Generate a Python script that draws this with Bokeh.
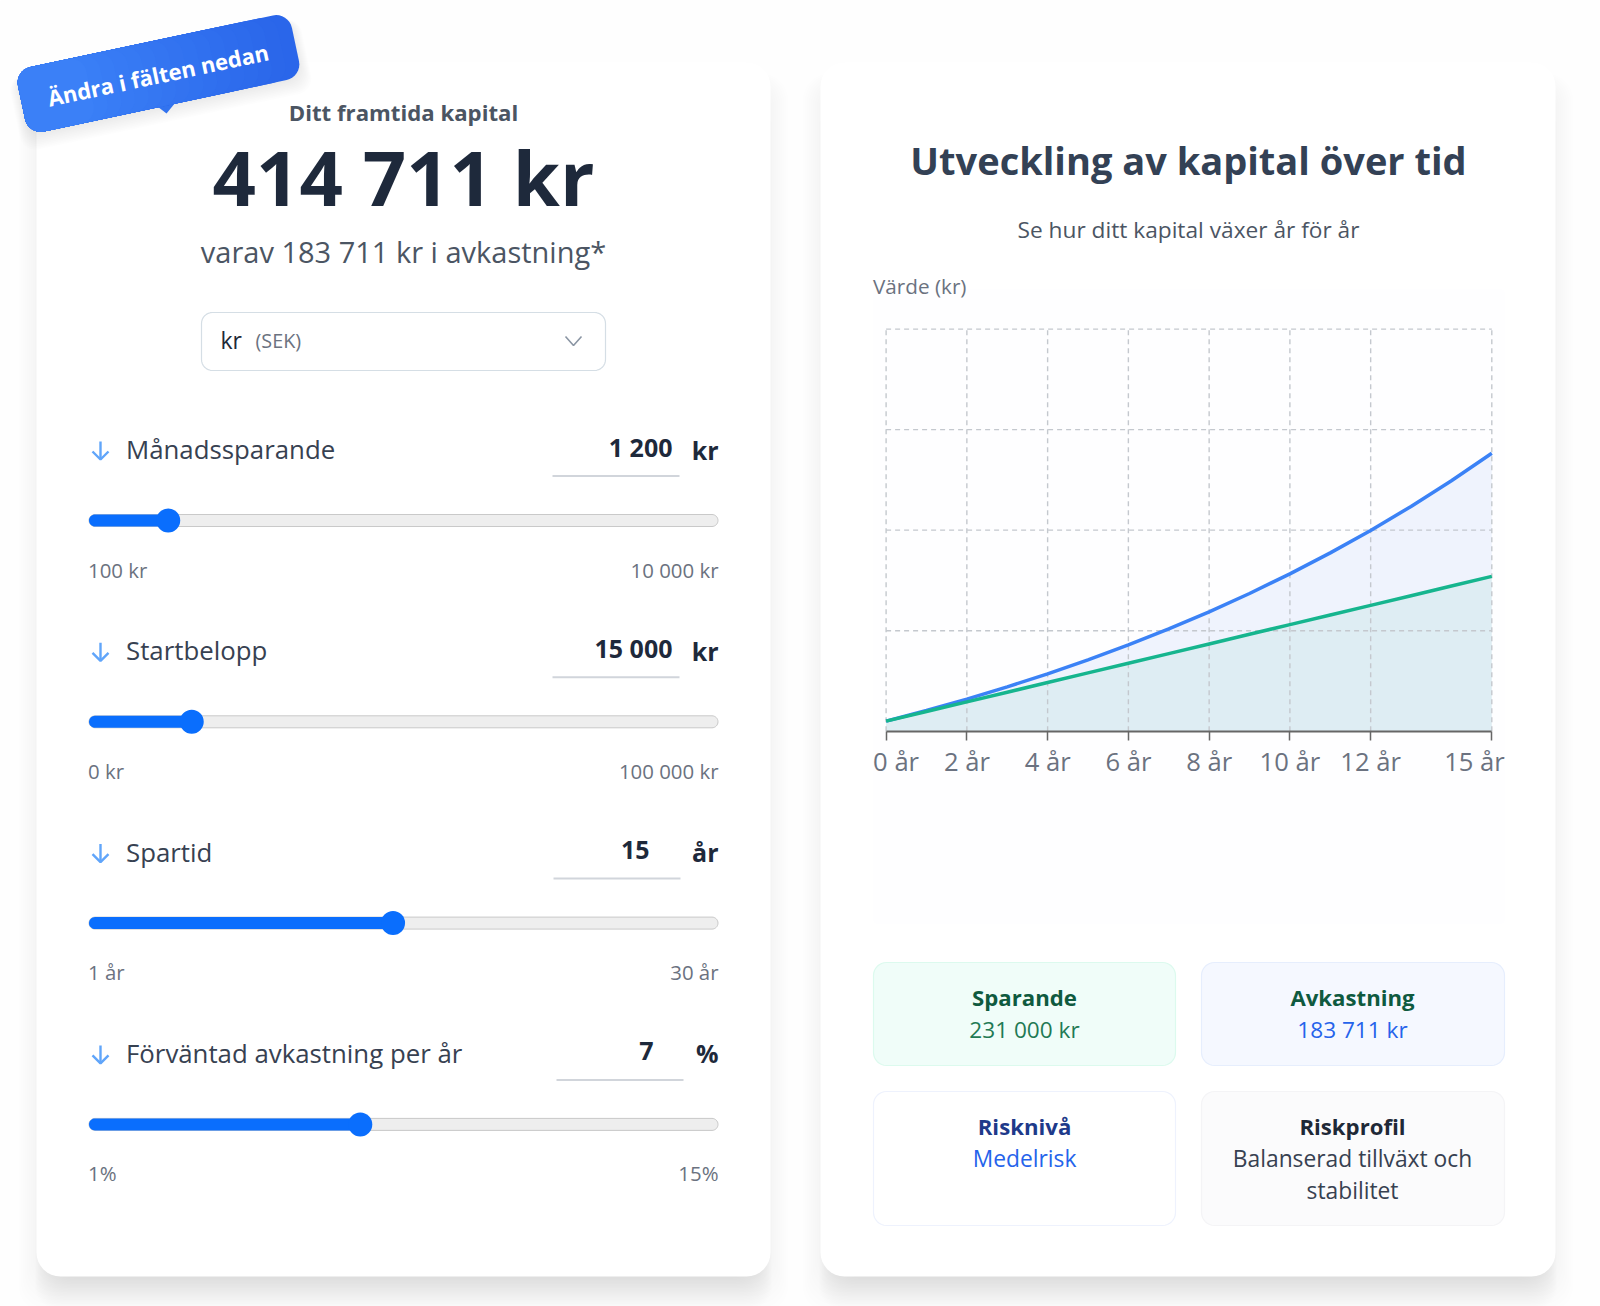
import numpy as np
from bokeh.core.properties import value
from bokeh.embed import file_html
from bokeh.models import FixedTicker, LinearAxis, Range1d
from bokeh.plotting import figure
from bokeh.resources import INLINE

# chart data
years = [0, 1, 2, 3, 4, 5, 6, 7, 8, 9, 10, 11, 12, 13, 14, 15]
saved = [15000, 29400, 43800, 58200, 72600, 87000, 101400, 115800, 130200, 144600, 159000, 173400, 187800, 202200, 216600, 231000]
capital = [15000, 30900, 47900, 66200, 85600, 106500, 128800, 152600, 178100, 205500, 234800, 266100, 299500, 335400, 373700, 414711]
tick_years = [0, 2, 4, 6, 8, 10, 12, 15]
tick_labels = ["0 år", "2 år", "4 år", "6 år", "8 år", "10 år", "12 år", "15 år"]
value_ticks = [150000, 300000, 450000, 600000]

# sliders
slider_names = ["Månadssparande", "Startbelopp", "Spartid", "Förväntad avkastning per år"]
slider_values = [1200, 15000, 15, 7]
slider_mins = [100, 0, 1, 1]
slider_maxs = [10000, 100000, 30, 15]
slider_shown = ["1 200", "15 000", "15", "7"]
slider_units = ["kr", "kr", "år", "%"]
min_labels = ["100 kr", "0 kr", "1 år", "1%"]
max_labels = ["10 000 kr", "100 000 kr", "30 år", "15%"]

W, H = 1600, 1306

p = figure(width=W, height=H, output_backend="svg", toolbar_location=None,
           x_range=Range1d(0, W), y_range=Range1d(H, 0),
           x_axis_location=None, y_axis_location=None, min_border=0,
           background_fill_color="#fefefe", border_fill_color="#fefefe", outline_line_color=None)
p.grid.visible = False


def rounded(x0, y0, x1, y1, r, angle=0.0, centre=None):
    """Outline of a rounded box in page pixels, optionally turned around a centre."""
    pts = []
    for cx, cy, start in [(x1 - r, y0 + r, -90), (x1 - r, y1 - r, 0), (x0 + r, y1 - r, 90), (x0 + r, y0 + r, 180)]:
        t = np.radians(np.linspace(start, start + 90, 9))
        pts += list(zip(cx + r * np.cos(t), cy + r * np.sin(t)))
    xs, ys = np.array(pts).T
    if angle:
        mx, my = centre or ((x0 + x1) / 2, (y0 + y1) / 2)
        a = np.radians(angle)
        xs, ys = mx + (xs - mx) * np.cos(a) - (ys - my) * np.sin(a), my + (xs - mx) * np.sin(a) + (ys - my) * np.cos(a)
    return xs, ys


def box(x0, y0, x1, y1, r, fill, line=None, alpha=1.0, angle=0.0, width=1.0, centre=None):
    xs, ys = rounded(x0, y0, x1, y1, r, angle, centre)
    p.patch(xs, ys, fill_color=fill, fill_alpha=alpha, line_color=line, line_width=width)


def label(x, y, s, size, color, bold=False, align="center", angle=0):
    p.text([x], [y], [s], text_font=value("Open Sans"), text_font_size=f"{size}px", text_color=color,
           text_font_style="bold" if bold else "normal", text_align=align, text_baseline="middle",
           angle=angle, angle_units="deg")


def card(x0, y0, x1, y1):
    for g in range(24):
        box(x0 + 14 - g * 0.7, y0 + 40, x1 - 14 + g * 0.7, y1 + 1 + g * 1.4, 24, "#000000", alpha=0.0045)
    for g in range(10):
        box(x0 - 2 * g, y0 + 20 - g, x1 + 2 * g, y1 + 4 * g, 26, "#000000", alpha=0.005)
    box(x0, y0, x1, y1, 24, "#ffffff")


# left and right cards
card(36, 62, 770, 1276)
card(820, 62, 1555, 1276)

# badge, its colour runs from left to right in narrow steps
BADGE_C = (158, 73)
for g in range(10):
    box(18 - g, 46, 298 + g, 108 + g * 1.6, 16, "#000000", alpha=0.008, angle=-12, centre=BADGE_C)
p.patch([157, 175, 166], [106, 102, 113], fill_color="#3273ef", line_color=None)
steps = 16
for g in range(steps):
    f = g / (steps - 1)
    col = "#%02x%02x%02x" % (int(0x2a + f * (0x3b - 0x2a)), int(0x66 + f * (0x80 - 0x66)), int(0xea + f * (0xf7 - 0xea)))
    box(18, 40, 298 - g * 14, 106, 16, col, angle=-12, centre=BADGE_C)
label(157.5, 74, "Ändra i fälten nedan", 22, "#ffffff", bold=True, angle=12)

# left header
label(403, 112, "Ditt framtida kapital", 22.2, "#4b5563", bold=True)
label(403, 176, "414 711 kr", 76, "#1e293b", bold=True)
label(403, 251, "varav 183 711 kr i avkastning*", 29, "#4b5563")

# currency select
box(201, 312, 605, 370, 11, "#ffffff", line="#d5dee5", width=1.2)
label(220, 339.5, "kr", 23, "#1f2937", align="left")
label(255, 339.5, "(SEK)", 19.8, "#6b7280", align="left")
p.line([565, 573, 581], [336, 345, 336], line_color="#8a95a3", line_width=1.6)

# slider rows
TRACK_L, TRACK_R, THUMB = 88.5, 717.5, 24
for i, name in enumerate(slider_names):
    dy = i * 201.3
    label(125.5, 448.5 + dy, name, 25.8, "#374151", align="left")
    # small arrow in front of the name
    p.line([100, 100], [441 + dy, 459 + dy], line_color="#60a5fa", line_width=2.4)
    p.line([92, 100, 108], [451 + dy, 459 + dy, 451 + dy], line_color="#60a5fa", line_width=2.4)
    # value box
    right = [672, 672, 649, 653][i]
    label(right, 446.5 + dy, slider_shown[i], 25, "#1e293b", bold=True, align="right")
    label(718, 449 + dy, slider_units[i], 25, "#1e293b", bold=True, align="right")
    ux = [552, 552, 553, 556][i]
    p.line([ux, ux + 127], [475.5 + dy, 475.5 + dy], line_color="#d1d5db", line_width=2)
    # track, fill and thumb come from the slider value
    frac = (slider_values[i] - slider_mins[i]) / (slider_maxs[i] - slider_mins[i])
    cx = TRACK_L + THUMB / 2 + frac * (TRACK_R - TRACK_L - THUMB)
    cy = 520 + dy
    box(TRACK_L, cy - 6, TRACK_R, cy + 6, 6, "#eeeeee", line="#c9c9c9")
    box(TRACK_L, cy - 6, cx, cy + 6, 6, "#0a6efd")
    p.scatter([cx], [cy], size=THUMB, fill_color="#0a6efd", line_color=None)
    label(87.5, 569 + dy, min_labels[i], 20.4, "#6b7280", align="left")
    label(718, 569 + dy, max_labels[i], 20.4, "#6b7280", align="right")

# chart panel
box(873, 289, 1504, 923, 2, "#fefeff")

# right header
label(1188, 159, "Utveckling av kapital över tid", 38, "#334155", bold=True)
label(1188, 229, "Se hur ditt kapital växer år för år", 22.7, "#4b5563")
label(872.5, 285, "Värde (kr)", 20.7, "#6b7280", align="left")

# chart scales: own ranges placed on the page pixels
X0, X15, Y0, YTOP = 885.6, 1491.3, 730.7, 328.6
kx = (X15 - X0) / 15
ky = (Y0 - YTOP) / value_ticks[-1]
p.extra_x_ranges["years"] = Range1d(-X0 / kx, (W - X0) / kx)
p.extra_y_ranges["value"] = Range1d((Y0 - H) / ky, Y0 / ky)
on_chart = dict(x_range_name="years", y_range_name="value")

zeros = [0] * len(years)
p.varea(years, zeros, capital, fill_color="#6f8fe8", fill_alpha=0.1, **on_chart)
p.varea(years, zeros, saved, fill_color="#50b89a", fill_alpha=0.1, **on_chart)
grid = dict(line_color="#c4c8ce", line_dash="5 4", line_width=1.4)
p.segment(tick_years, [0] * len(tick_years), tick_years, [value_ticks[-1]] * len(tick_years), **grid, **on_chart)
p.segment([0] * 4, value_ticks, [15] * 4, value_ticks, **grid, **on_chart)
p.line(years, capital, line_color="#3b82f6", line_width=3.5, **on_chart)
p.line(years, saved, line_color="#16b58e", line_width=3.5, **on_chart)

axis = LinearAxis(x_range_name="years", fixed_location=Y0, bounds=(0, 15), ticker=FixedTicker(ticks=tick_years))
axis.major_label_overrides = {t: s for t, s in zip(tick_years, tick_labels) if t not in (0, 15)}
axis.major_label_overrides.update({0: "", 15: ""})
axis.major_label_text_font = "Open Sans"
axis.major_label_text_font_size = "25.6px"
axis.major_label_text_color = "#6b7280"
axis.major_label_standoff = 4
axis.axis_line_color = "#666666"
axis.axis_line_width = 2
axis.major_tick_line_color = "#666666"
axis.major_tick_line_width = 1.5
axis.major_tick_in = 0
axis.major_tick_out = 9
axis.minor_tick_line_color = None
p.add_layout(axis, "below")
# first and last label stay inside the panel
p.text([0], [0], [tick_labels[0]], x_offset=-13, y_offset=30, text_font=value("Open Sans"), text_font_size="25.6px",
       text_color="#6b7280", text_align="left", text_baseline="middle", **on_chart)
p.text([15], [0], [tick_labels[-1]], x_offset=13, y_offset=30, text_font=value("Open Sans"), text_font_size="25.6px",
       text_color="#6b7280", text_align="right", text_baseline="middle", **on_chart)

# summary boxes
box(873, 962, 1175, 1065, 13, "#f0fdf9", line="#dcfaee", width=1.2)
box(1201, 962, 1504, 1065, 13, "#f5f8ff", line="#e6eefd", width=1.2)
box(873, 1091, 1175, 1225, 13, "#ffffff", line="#eef2fd", width=1.2)
box(1201, 1091, 1504, 1225, 13, "#fbfbfc", line="#f4f4f6", width=1.2)
label(1024, 997, "Sparande", 22.2, "#0f5a3f", bold=True)
label(1024, 1029, "231 000 kr", 22.6, "#1f7a55")
label(1352, 997, "Avkastning", 22.2, "#0f5a3f", bold=True)
label(1352, 1029, "183 711 kr", 22.6, "#2563eb")
label(1024, 1126, "Risknivå", 22.2, "#1e3a8a", bold=True)
label(1024, 1158, "Medelrisk", 22.8, "#2563eb")
label(1352, 1126, "Riskprofil", 22.2, "#1f2937", bold=True)
label(1352, 1158, "Balanserad tillväxt och", 22.8, "#374151")
label(1352, 1190, "stabilitet", 22.8, "#374151")

open("out.html", "w").write(file_html(p, INLINE))
